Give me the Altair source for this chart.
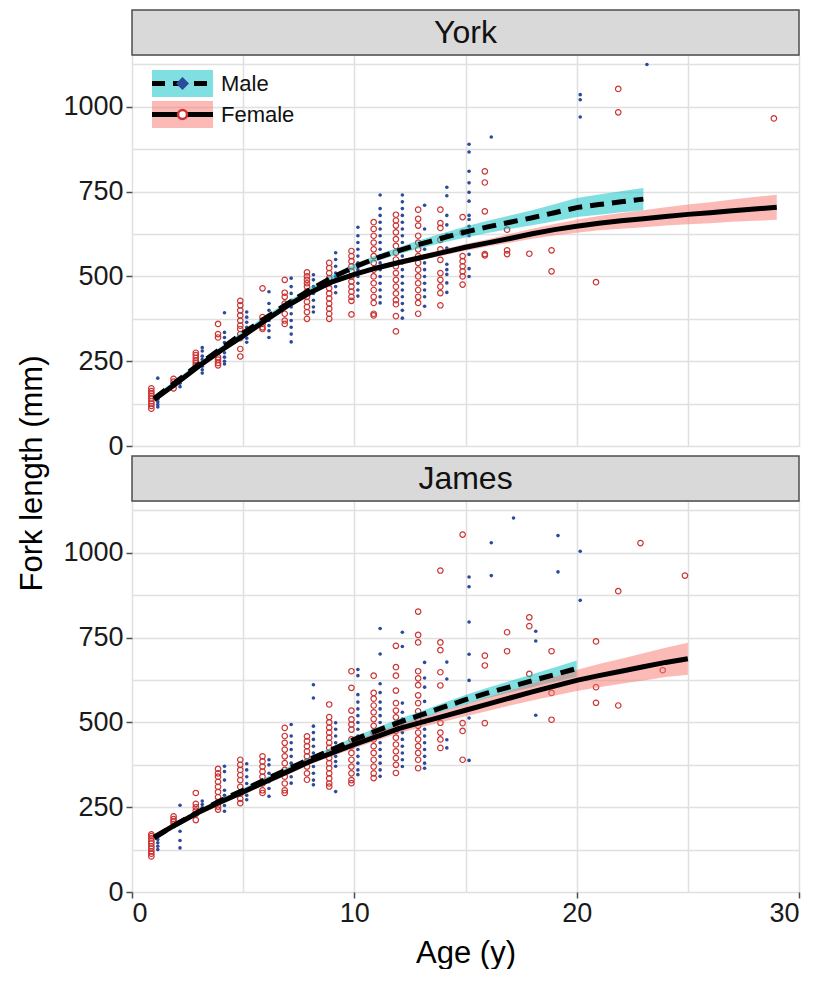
import altair as alt
import pandas as pd

W, H = 667, 391
YMAX = 1153
FONT = "Liberation Sans Narrow, Arial Narrow, Liberation Sans, sans-serif"

MALE_PT = "#2B4A9B"
FEMALE_PT = "#CC3333"
MALE_BAND = "#00BFC4"
FEMALE_BAND = "#F8766D"

# ---------------- observed data (age -> fork lengths, mm) ----------------
york_male = {
    1: [115, 122, 130, 138, 200],
    2: [175, 185],
    3: [215, 225, 235, 245, 255, 265, 280, 290],
    4: [393, 335, 320, 305, 290, 275, 262, 250, 242],
    5: [395, 380, 365, 350, 340, 330, 318, 306],
    6: [455, 420, 400, 385, 370, 355, 340, 320],
    7: [495, 470, 450, 430, 410, 390, 370, 350, 330, 307],
    8: [505, 490, 470, 450, 430, 410, 395],
    9: [570, 550, 530, 510, 500, 490, 470, 452],
    10: [645, 620, 600, 580, 560, 540, 520, 500, 480, 460, 442],
    11: [740, 700, 680, 660, 640, 620, 600, 580, 560, 540, 520, 500, 480, 460, 440, 422],
    12: [740, 720, 700, 680, 660, 640, 620, 600, 580, 560, 540, 520, 500, 480, 460, 440, 420, 400, 377],
    13: [710, 640, 600, 580, 560, 540, 520, 500, 480, 460, 440, 412],
    14: [763, 738, 680, 652, 623, 584, 536, 520, 506, 481, 453],
    15: [890, 867, 810, 776, 748, 722, 680, 668, 648, 620, 585, 565, 523, 500],
    16: [911],
    20: [1036, 1021, 970],
    23: [1125],
}
york_female = {
    1: [110, 118, 125, 132, 140, 148, 155, 162, 170],
    2: [170, 180, 190, 198],
    3: [238, 245, 252, 260, 268, 275],
    4: [360, 330, 320, 262, 255, 245, 238],
    5: [428, 415, 400, 385, 370, 355, 345, 330, 318, 286, 264],
    6: [465, 380, 370, 360, 350, 345],
    7: [490, 452, 440, 420, 390, 370, 360],
    8: [512, 500, 490, 480, 470, 455, 440, 425, 410, 395, 375],
    9: [540, 525, 510, 495, 480, 465, 450, 435, 420, 405, 390, 375],
    10: [575, 560, 545, 530, 515, 500, 485, 470, 455, 440, 428, 388],
    11: [660, 640, 620, 600, 580, 560, 540, 520, 500, 480, 460, 440, 422, 390, 385],
    12: [682, 665, 650, 630, 610, 590, 570, 550, 530, 510, 490, 470, 450, 430, 418, 383, 338],
    13: [697, 670, 650, 620, 600, 580, 560, 540, 520, 500, 480, 460, 440, 422, 390],
    14: [697, 657, 643, 608, 580, 549, 510, 490, 470, 451, 415],
    15: [675, 630, 560, 545, 530, 515, 500, 476],
    16: [810, 777, 692, 566, 562],
    17: [638, 577, 566],
    18: [567],
    19: [577, 515],
    21: [483],
    22: [1053, 984],
    29: [966],
}
james_male = {
    1: [125, 135, 145, 155],
    2: [256, 179, 152, 130],
    3: [268, 258, 248],
    4: [371, 355, 330, 300, 285, 270, 255, 238],
    5: [378, 360, 340, 320, 300, 285, 272],
    6: [390, 375, 350, 325, 305, 282],
    7: [494, 460, 440, 420, 400, 380, 360, 340, 321],
    8: [611, 572, 489, 470, 450, 430, 410, 390, 370, 350, 330, 316],
    9: [499, 480, 460, 440, 420, 400, 385, 371, 296],
    10: [656, 638, 582, 560, 540, 520, 500, 480, 460, 440, 420, 400, 380, 360, 346],
    11: [777, 702, 614, 588, 560, 540, 520, 500, 480, 460, 440, 420, 400, 380, 360, 341],
    12: [766, 724, 557, 530, 510, 490, 470, 450, 430, 410, 390, 370],
    13: [677, 631, 604, 562, 499, 480, 460, 440, 420, 400, 380, 365],
    14: [678, 628, 449, 425],
    15: [929, 900, 796, 701, 624, 513, 388],
    16: [1030, 933],
    17: [1103],
    18: [769, 740, 521],
    19: [1051, 944],
    20: [1005, 860],
}
james_female = {
    1: [105, 113, 120, 128, 135, 143, 150, 158, 165, 170],
    2: [200, 208, 215, 223],
    3: [292, 260, 250, 240, 230, 212],
    4: [363, 350, 340, 325, 310, 295, 280, 265, 252, 243],
    5: [390, 375, 360, 345, 330, 310, 290, 275, 262],
    6: [400, 385, 370, 355, 340, 320, 300, 292],
    7: [484, 460, 440, 420, 400, 380, 360, 340, 320, 300, 292],
    8: [459, 445, 430, 415, 400, 385, 370, 350, 331],
    9: [553, 516, 500, 485, 470, 455, 440, 425, 410, 395, 380, 365, 350, 335, 320, 311],
    10: [651, 602, 535, 509, 494, 479, 450, 430, 410, 390, 370, 350, 330, 321],
    11: [638, 587, 570, 550, 530, 510, 490, 470, 450, 430, 410, 390, 370, 350, 336],
    12: [726, 663, 638, 594, 557, 535, 515, 495, 475, 455, 435, 415, 395, 375, 351],
    13: [827, 758, 736, 651, 630, 610, 580, 557, 533, 510, 490, 470, 450, 430, 410, 390, 365],
    14: [948, 736, 713, 648, 609, 499, 470, 450, 425],
    15: [1054, 498, 475, 390],
    16: [697, 668, 498],
    17: [766, 710],
    18: [810, 784, 643],
    19: [710, 587, 508],
    21: [739, 604, 558],
    22: [887, 550],
    23: [1029],
    24: [654],
    25: [933],
}

# ---------------- fitted growth curves (fit and half-width of band) ----------------
york_male_age = list(range(1, 24))
york_male_fit = [140, 190, 240, 287, 333, 377, 420, 460, 497, 528, 554, 576, 596, 614, 631, 646,
                 660, 673, 688, 703, 712, 720, 728]
york_male_hw = [8, 7, 6, 6, 6, 6, 6, 7, 7, 8, 9, 10, 12, 14, 16, 18, 20, 22, 25, 28, 30, 31, 33]

york_female_age = list(range(1, 30))
york_female_fit = [137, 185, 235, 282, 325, 370, 414, 452, 484, 506, 525, 541, 556, 571, 586, 599,
                   612, 626, 638, 648, 657, 664, 670, 677, 683, 688, 694, 699, 704]
york_female_hw = [8, 7, 6, 6, 6, 6, 6, 6, 6, 6, 6, 7, 8, 9, 10, 11, 13, 15, 17, 19, 21, 23, 25, 27,
                  29, 31, 33, 35, 37]

james_male_age = list(range(1, 21))
james_male_fit = [160, 200, 237, 270, 300, 332, 362, 392, 420, 450, 475, 500, 522, 545, 567, 587,
                  605, 623, 641, 659]
james_male_hw = [8, 7, 6, 6, 6, 6, 6, 6, 7, 8, 9, 10, 11, 12, 14, 15, 17, 19, 21, 24]

james_female_age = list(range(1, 26))
james_female_fit = [162, 200, 235, 266, 295, 325, 355, 385, 410, 435, 458, 482, 500, 518, 536, 554,
                    572, 590, 607, 624, 638, 651, 664, 677, 688]
james_female_hw = [10, 9, 8, 8, 8, 8, 9, 9, 10, 11, 12, 13, 14, 16, 18, 20, 22, 25, 28, 31, 34, 37,
                   40, 43, 47]

sexes = ["Male", "Female"]
panels = ["York", "James"]


def obs_df(d, sex):
    rows = [{"sex": sex, "age": a, "length": v} for a, vals in d.items() for v in vals]
    return pd.DataFrame(rows)


def fit_df(ages, fit, hw):
    return pd.DataFrame({"age": ages, "fit": fit, "hw": hw})


x_vals = list(range(0, 31, 5))
y_vals = list(range(0, 1126, 125))
GRID = "#e0e0e0"
TICK = "#4d4d4d"


def x_axis(bottom):
    if bottom:
        return alt.Axis(values=x_vals, title="Age (y)", grid=True, gridColor=GRID, gridWidth=1.5,
                        domain=False, labelExpr="datum.value % 10 === 0 ? datum.label : ''",
                        tickColor={"condition": {"test": "datum.value % 10 === 0", "value": TICK},
                                   "value": "transparent"},
                        tickSize=6, tickWidth=1.5, labelFontSize=27, labelPadding=2,
                        labelColor="#1a1a1a", titleFontSize=31, titleFontWeight="normal",
                        titlePadding=12, titleColor="#000000")
    return alt.Axis(values=x_vals, title=None, grid=True, gridColor=GRID, gridWidth=1.5,
                    domain=False, labels=False, ticks=False)


def y_axis(top):
    kw = dict(values=y_vals, grid=True, gridColor=GRID, gridWidth=1.5, domain=False, format="d",
              labelExpr="datum.value % 250 === 0 ? datum.label : ''",
              tickColor={"condition": {"test": "datum.value % 250 === 0", "value": TICK},
                         "value": "transparent"},
              tickSize=6, tickWidth=1.5, labelFontSize=27, labelPadding=3, labelColor="#1a1a1a")
    if top:
        kw.update(title="Fork length (mm)", titleFontSize=31, titleFontWeight="normal",
                  titleColor="#000000", titleX=-100, titleY=418, titleAngle=270,
                  titleAlign="center", titleBaseline="middle")
    else:
        kw.update(title=None)
    return alt.Axis(**kw)


def panel(name, male, female, mfit, ffit, top):
    xs = alt.Scale(domain=[0, 30], nice=False, zero=False)
    ys = alt.Scale(domain=[0, YMAX], nice=False, zero=False)
    X = alt.X("xj:Q", scale=xs, axis=x_axis(not top))
    Y = alt.Y("length:Q", scale=ys, axis=y_axis(top))

    male_pts = alt.Chart(obs_df(male, "Male")).transform_calculate(
        xj="datum.age + 0.16").mark_circle(size=13, color=MALE_PT, opacity=1).encode(x=X, y=Y)
    female_pts = alt.Chart(obs_df(female, "Female")).transform_calculate(
        xj="datum.age - 0.13").mark_point(shape="circle", filled=False, size=30, strokeWidth=1.2,
                                          color=FEMALE_PT, opacity=1).encode(x=X, y=Y)

    def band(df, color):
        return alt.Chart(df).transform_calculate(
            lo="datum.fit - datum.hw", hi="datum.fit + datum.hw", xj="datum.age"
        ).mark_area(color=color, opacity=0.5).encode(
            x=alt.X("xj:Q", scale=xs, axis=x_axis(not top)),
            y=alt.Y("lo:Q", scale=ys, axis=y_axis(top)), y2="hi:Q")

    def line(df, dash):
        kw = dict(color="black", strokeWidth=5)
        if dash:
            kw["strokeDash"] = [14, 8]
        return alt.Chart(df).transform_calculate(xj="datum.age").mark_line(**kw).encode(
            x=alt.X("xj:Q", scale=xs, axis=x_axis(not top)),
            y=alt.Y("fit:Q", scale=ys, axis=y_axis(top)))

    strip_df = pd.DataFrame({"panel": [name]})
    strip = alt.Chart(strip_df).mark_rect(fill="#d9d9d9", stroke=TICK, strokeWidth=1.5).encode(
        x=alt.value(0), x2=alt.value(W), y=alt.value(-45), y2=alt.value(0))
    strip_txt = alt.Chart(strip_df).mark_text(fontSize=32, color="#111111", baseline="middle").encode(
        x=alt.value(W / 2), y=alt.value(-22), text="panel:N")

    layers = [male_pts, female_pts,
              band(mfit, MALE_BAND), band(ffit, FEMALE_BAND),
              line(ffit, False), line(mfit, True),
              strip, strip_txt]

    if top:
        leg = pd.DataFrame({"sex": sexes})
        def f(s):
            return f"datum.sex === '{s}'"
        rows = {"Male": (15, 42, 28.5), "Female": (46, 73, 59.5)}
        for s, bc in (("Male", MALE_BAND), ("Female", FEMALE_BAND)):
            y0, y1, yc = rows[s]
            base = alt.Chart(leg).transform_filter(f(s))
            layers.append(base.mark_rect(color=bc, opacity=0.5).encode(
                x=alt.value(20), x2=alt.value(81), y=alt.value(y0), y2=alt.value(y1)))
            rk = dict(color="black", strokeWidth=5)
            if s == "Male":
                rk["strokeDash"] = [13, 8]
            layers.append(base.mark_rule(**rk).encode(
                x=alt.value(20), x2=alt.value(81), y=alt.value(yc)))
            if s == "Male":
                layers.append(base.mark_point(shape="diamond", filled=True, size=170,
                                              color=MALE_PT, opacity=1).encode(
                    x=alt.value(50.5), y=alt.value(yc)))
            else:
                layers.append(base.mark_point(shape="circle", filled=True, fill="white",
                                              stroke=FEMALE_PT, strokeWidth=2.5, size=80,
                                              opacity=1).encode(
                    x=alt.value(50.5), y=alt.value(yc)))
            layers.append(base.mark_text(align="left", baseline="middle", fontSize=22,
                                         color="#111111").encode(
                x=alt.value(89), y=alt.value(yc), text="sex:N"))

    return alt.layer(*layers).properties(width=W, height=H)


york = panel("York", york_male, york_female,
             fit_df(york_male_age, york_male_fit, york_male_hw),
             fit_df(york_female_age, york_female_fit, york_female_hw), True)
james = panel("James", james_male, james_female,
              fit_df(james_male_age, james_male_fit, james_male_hw),
              fit_df(james_female_age, james_female_fit, james_female_hw), False)

chart = alt.vconcat(york, james, spacing=55, bounds="flush").properties(
    padding={"left": 7, "top": 0, "right": 5, "bottom": 0}
).configure_view(stroke=TICK, strokeWidth=1.5).configure(font=FONT, background="white")

chart.save("out.html", embed_options={"renderer": "svg", "actions": False})
